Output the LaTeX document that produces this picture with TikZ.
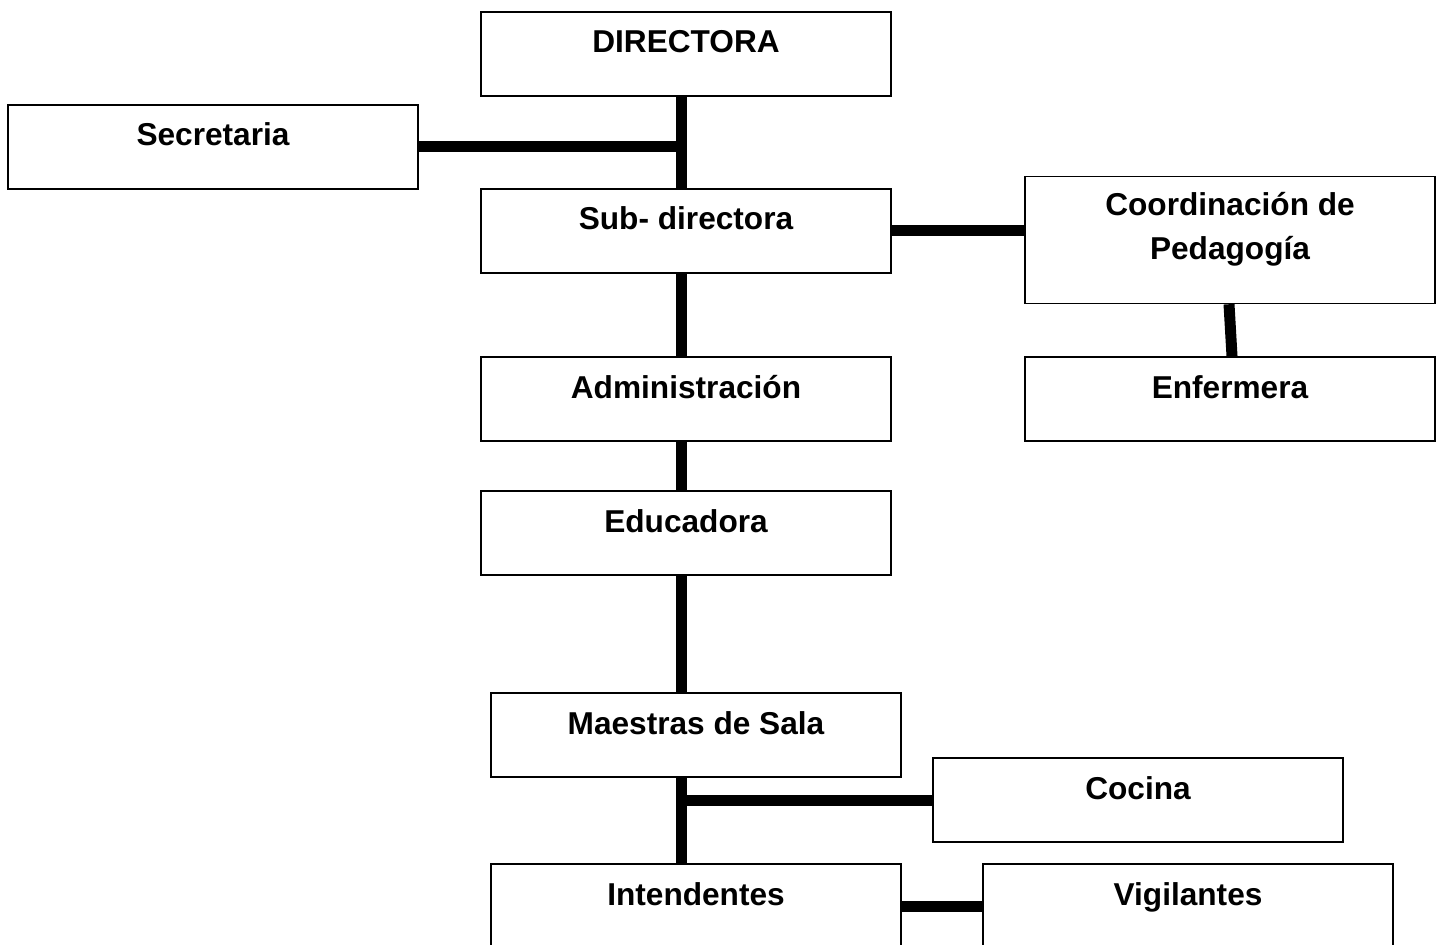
\documentclass[tikz,border=0pt]{standalone}
\usepackage{fontspec}
\setmainfont{Liberation Sans}

\tikzset{
    orgbox/.style = {draw, line width = 0.85pt, minimum width = 8.2cm, inner xsep = 0pt, inner ysep = 0pt,
                     align = center, font = \fontsize{18}{25}\selectfont\bfseries,
                     text height = 0.82cm, text depth = 0.86cm},
    link/.style = {line width = 0.22cm}
}

\begin{document}
\begin{tikzpicture}[x = 0.02cm, y = -0.02cm]
            \useasboundingbox (0,0) rectangle (1442,945);
            \clip (0,0) rectangle (1442,945);

            % boxes
            \node[orgbox] (dir) at (686,54) {DIRECTORA};
            \node[orgbox] (sec) at (213,147) {Secretaria};
            \node[orgbox] (sub) at (686,231) {Sub- directora};
            \node[orgbox, text height = 1.66cm, text depth = 0.88cm] (coord) at (1230,240) {Coordinación de\\Pedagogía};
            \node[orgbox] (adm) at (686,399) {Administración};
            \node[orgbox] (enf) at (1230,399) {Enfermera};
            \node[orgbox] (edu) at (686,533) {Educadora};
            \node[orgbox] (mae) at (696,735) {Maestras de Sala};
            \node[orgbox] (coc) at (1138,800) {Cocina};
            \node[orgbox] (int) at (696,906) {Intendentes};
            \node[orgbox] (vig) at (1188,906) {Vigilantes};

            % main line
            \coordinate (spine) at (681,0);
            \draw[link] (dir.south -| spine) -- (sub.north -| spine);
            \draw[link] (sub.south -| spine) -- (adm.north -| spine);
            \draw[link] (adm.south -| spine) -- (edu.north -| spine);
            \draw[link] (edu.south -| spine) -- (mae.north -| spine);
            \draw[link] (mae.south -| spine) -- (int.north -| spine);

            % side branches
            \draw[link] (sec.east) -- (sec.east -| spine);
            \draw[link] (sub.east) -- (sub.east -| coord.west);
            \draw[link] ([xshift = -0.02cm]coord.south) -- ([xshift = 0.04cm]enf.north);
            \draw[link] (coc.west -| spine) -- (coc.west);
            \draw[link] (int.east) -- (vig.west);
\end{tikzpicture}
\end{document}
